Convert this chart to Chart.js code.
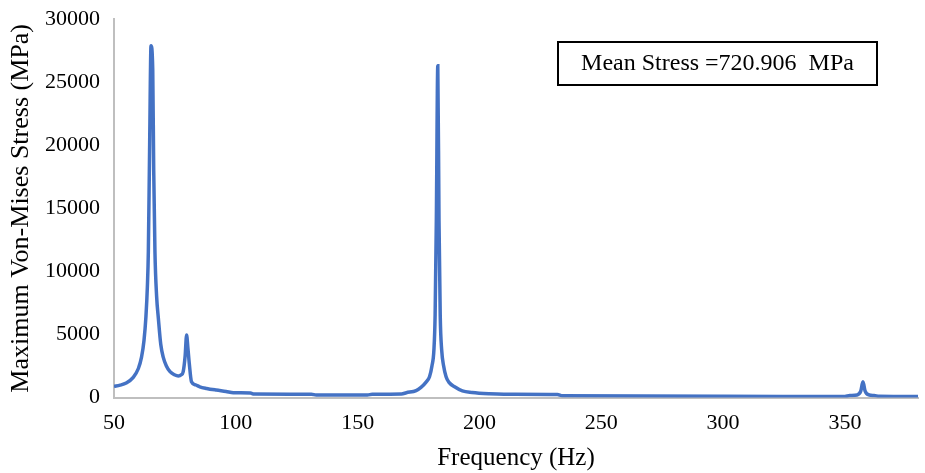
<!DOCTYPE html>
<html>
<head>
<meta charset="utf-8">
<script src="https://cdn.jsdelivr.net/npm/chart.js@4/dist/chart.umd.min.js"></script>
<style>
  html, body { margin: 0; padding: 0; background: #fff; }
  #wrap { width: 925px; height: 473px; position: relative; }
</style>
</head>
<body>
<div id="wrap"><canvas id="stress-chart"></canvas></div>
<script>
// Frequency sweep (Hz) and max von Mises stress (MPa)
const freqHz = [
  50, 52.5, 55, 57.9, 60, 61.3, 62.3, 63.1, 63.7, 64.1, 64.6, 65.2, 65.9, 66.3, 66.8,
  67.5, 68.2, 69.2, 70.2, 71.5, 73, 74.8, 76.4, 77.6, 78.4, 79.2, 79.8, 80.3, 80.9, 81.8,
  83.5, 85.2, 88, 92, 96, 99, 106, 107.5, 131, 133, 154, 156, 168, 170, 174,
  176, 178, 179.5, 180.5, 181.3, 181.8, 182.3, 182.9, 183.4, 183.9, 184.5, 185.3, 186.3, 187.5, 189.8,
  193, 197, 204, 210, 232, 234, 300, 350, 352, 355, 356.5, 357.4, 358.3, 360, 362,
  364, 380
];
const maxStress = [
  880, 980, 1150, 1600, 2300, 3200, 4500, 6400, 8800, 11600, 19500, 27900, 26000, 18000, 11600,
  8000, 6300, 4200, 3200, 2500, 2050, 1800, 1700, 1800, 2050, 3300, 4950, 4000, 2700, 1250,
  1000, 850, 720, 590, 480, 380, 350, 270, 260, 200, 200, 260, 280, 380, 550,
  800, 1200, 1650, 2500, 3750, 6500, 14000, 26300, 14000, 6500, 3750, 2500, 1650, 1200, 850,
  520, 400, 300, 260, 230, 130, 90, 80, 160, 200, 500, 1250, 500, 200, 160,
  90, 70
];
const xTicks = [50, 100, 150, 200, 250, 300, 350];
const yTicks = [0, 5000, 10000, 15000, 20000, 25000, 30000];
const meanStressText = 'Mean Stress =720.906  MPa';

const serif = "'Liberation Serif', 'Times New Roman', serif";
const axisGray = '#bfbfbf';

// Boxed label in the upper right
const meanBox = {
  id: 'meanBox',
  afterDraw(chart) {
    const ctx = chart.ctx;
    ctx.save();
    ctx.strokeStyle = '#000';
    ctx.lineWidth = 2;
    ctx.strokeRect(558, 42, 319, 43);
    ctx.fillStyle = '#000';
    ctx.font = '24px ' + serif;
    ctx.textAlign = 'center';
    ctx.textBaseline = 'middle';
    ctx.fillText(meanStressText, 717.5, 64);
    ctx.restore();
  }
};

const points = freqHz.map((f, i) => ({ x: f, y: maxStress[i] }));

new Chart(document.getElementById('stress-chart'), {
  type: 'line',
  data: {
    datasets: [{
      data: points,
      borderColor: '#4472c4',
      borderWidth: 3.5,
      pointRadius: 0,
      cubicInterpolationMode: 'monotone',
      fill: false
    }]
  },
  options: {
    responsive: true,
    maintainAspectRatio: false,
    animation: false,
    layout: { padding: { top: 17, right: 7, left: 0, bottom: 0 } },
    plugins: { legend: { display: false }, tooltip: { enabled: false } },
    scales: {
      x: {
        type: 'linear',
        min: 50,
        max: 380,
        afterBuildTicks: (scale) => { scale.ticks = xTicks.map(v => ({ value: v })); },
        afterFit: (scale) => { scale.height = 75.5; },
        grid: { display: false },
        border: { display: true, color: axisGray, width: 2 },
        ticks: {
          padding: 5,
          color: '#000',
          font: { family: serif, size: 22 },
          callback: (v) => String(v)
        },
        title: {
          display: true,
          text: 'Frequency (Hz)',
          color: '#000',
          font: { family: serif, size: 25 },
          padding: { top: 2, bottom: 0 }
        }
      },
      y: {
        min: 0,
        max: 30000,
        afterBuildTicks: (scale) => { scale.ticks = yTicks.map(v => ({ value: v })); },
        afterFit: (scale) => { scale.width = 114; },
        grid: { display: false },
        border: { display: true, color: axisGray, width: 2 },
        ticks: {
          padding: 6,
          color: '#000',
          font: { family: serif, size: 22 },
          callback: (v) => String(v)
        },
        title: {
          display: true,
          text: 'Maximum Von-Mises Stress (MPa)',
          color: '#000',
          font: { family: serif, size: 26 },
          padding: { top: 6, bottom: 0 }
        }
      }
    }
  },
  plugins: [meanBox]
});
</script>
</body>
</html>
